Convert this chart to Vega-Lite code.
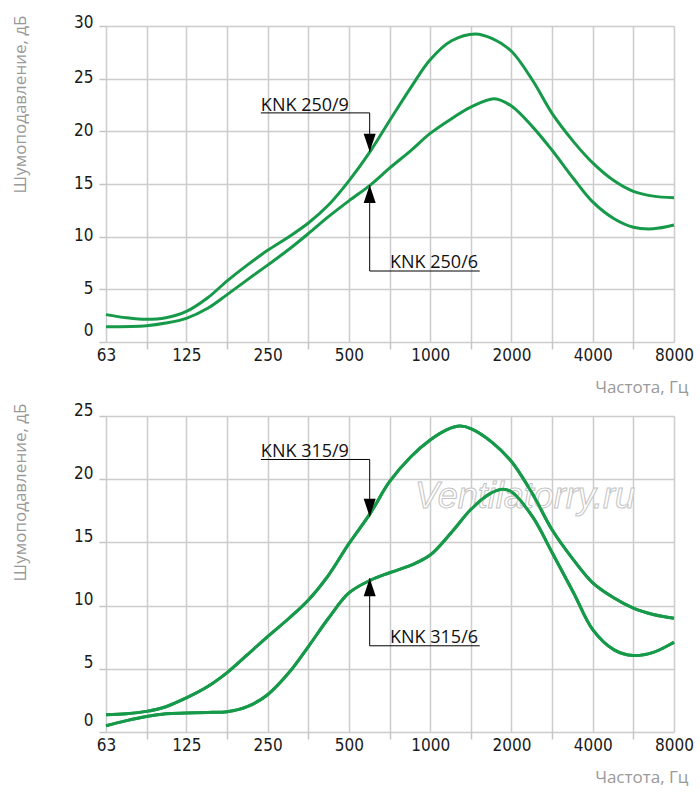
{
  "$schema": "https://vega.github.io/schema/vega-lite/v6.json",
  "padding": {"left": 10, "top": 13, "right": 5, "bottom": 5},
  "spacing": 6,
  "config": {
    "view": {"stroke": null},
    "axis": {
      "grid": true,
      "gridColor": "#cccccc",
      "gridWidth": 1.5,
      "domain": false,
      "tickColor": "#c4c4c4",
      "tickWidth": 1.5,
      "tickSize": 7,
      "labelFont": "Liberation Sans Narrow, DejaVu Sans Condensed, sans-serif",
      "labelFontSize": 17,
      "labelColor": "#1a1a1a",
      "labelFlush": false,
      "labelOverlap": false,
      "labelBound": false,
      "titleFont": "Open Sans",
      "titleFontSize": 17,
      "titleFontWeight": "normal",
      "titleColor": "#999999"
    },
    "line": {"color": "#17994a", "strokeWidth": 3, "interpolate": "catmull-rom"},
    "text": {"font": "Open Sans", "fontSize": 18, "align": "left", "baseline": "alphabetic"}
  },
  "datasets": {
    "top": [
      {"series": "KNK 250/9", "f": 63, "db": 2.6},
      {"series": "KNK 250/9", "f": 75, "db": 2.3},
      {"series": "KNK 250/9", "f": 89, "db": 2.15},
      {"series": "KNK 250/9", "f": 105, "db": 2.3},
      {"series": "KNK 250/9", "f": 125, "db": 2.9},
      {"series": "KNK 250/9", "f": 150, "db": 4.2},
      {"series": "KNK 250/9", "f": 177, "db": 5.8},
      {"series": "KNK 250/9", "f": 210, "db": 7.3},
      {"series": "KNK 250/9", "f": 250, "db": 8.7},
      {"series": "KNK 250/9", "f": 300, "db": 10.0},
      {"series": "KNK 250/9", "f": 354, "db": 11.3},
      {"series": "KNK 250/9", "f": 420, "db": 13.0},
      {"series": "KNK 250/9", "f": 500, "db": 15.3},
      {"series": "KNK 250/9", "f": 600, "db": 18.1},
      {"series": "KNK 250/9", "f": 707, "db": 21.0},
      {"series": "KNK 250/9", "f": 850, "db": 24.2},
      {"series": "KNK 250/9", "f": 1000, "db": 26.8},
      {"series": "KNK 250/9", "f": 1200, "db": 28.6},
      {"series": "KNK 250/9", "f": 1470, "db": 29.25},
      {"series": "KNK 250/9", "f": 1700, "db": 28.8},
      {"series": "KNK 250/9", "f": 2000, "db": 27.6},
      {"series": "KNK 250/9", "f": 2400, "db": 24.8},
      {"series": "KNK 250/9", "f": 2828, "db": 21.7},
      {"series": "KNK 250/9", "f": 3400, "db": 19.0},
      {"series": "KNK 250/9", "f": 4000, "db": 17.0},
      {"series": "KNK 250/9", "f": 4800, "db": 15.3},
      {"series": "KNK 250/9", "f": 5657, "db": 14.3},
      {"series": "KNK 250/9", "f": 6700, "db": 13.85},
      {"series": "KNK 250/9", "f": 8000, "db": 13.7},
      {"series": "KNK 250/6", "f": 63, "db": 1.45},
      {"series": "KNK 250/6", "f": 89, "db": 1.55},
      {"series": "KNK 250/6", "f": 105, "db": 1.8},
      {"series": "KNK 250/6", "f": 125, "db": 2.25},
      {"series": "KNK 250/6", "f": 150, "db": 3.2},
      {"series": "KNK 250/6", "f": 177, "db": 4.5},
      {"series": "KNK 250/6", "f": 210, "db": 5.9},
      {"series": "KNK 250/6", "f": 250, "db": 7.3},
      {"series": "KNK 250/6", "f": 300, "db": 8.8},
      {"series": "KNK 250/6", "f": 354, "db": 10.3},
      {"series": "KNK 250/6", "f": 420, "db": 11.9},
      {"series": "KNK 250/6", "f": 500, "db": 13.4},
      {"series": "KNK 250/6", "f": 600, "db": 14.9},
      {"series": "KNK 250/6", "f": 707, "db": 16.5},
      {"series": "KNK 250/6", "f": 850, "db": 18.2},
      {"series": "KNK 250/6", "f": 1000, "db": 19.8},
      {"series": "KNK 250/6", "f": 1200, "db": 21.2},
      {"series": "KNK 250/6", "f": 1414, "db": 22.3},
      {"series": "KNK 250/6", "f": 1730, "db": 23.1},
      {"series": "KNK 250/6", "f": 2000, "db": 22.4},
      {"series": "KNK 250/6", "f": 2400, "db": 20.4},
      {"series": "KNK 250/6", "f": 2828, "db": 18.2},
      {"series": "KNK 250/6", "f": 3400, "db": 15.5},
      {"series": "KNK 250/6", "f": 4000, "db": 13.3},
      {"series": "KNK 250/6", "f": 4800, "db": 11.7},
      {"series": "KNK 250/6", "f": 5657, "db": 10.9},
      {"series": "KNK 250/6", "f": 6700, "db": 10.75},
      {"series": "KNK 250/6", "f": 8000, "db": 11.1}
    ],
    "bottom": [
      {"series": "KNK 315/9", "f": 63, "db": 1.37},
      {"series": "KNK 315/9", "f": 75, "db": 1.45},
      {"series": "KNK 315/9", "f": 89, "db": 1.63},
      {"series": "KNK 315/9", "f": 105, "db": 2.0},
      {"series": "KNK 315/9", "f": 125, "db": 2.7},
      {"series": "KNK 315/9", "f": 150, "db": 3.6},
      {"series": "KNK 315/9", "f": 177, "db": 4.7},
      {"series": "KNK 315/9", "f": 210, "db": 6.1},
      {"series": "KNK 315/9", "f": 250, "db": 7.55},
      {"series": "KNK 315/9", "f": 300, "db": 9.0},
      {"series": "KNK 315/9", "f": 354, "db": 10.45},
      {"series": "KNK 315/9", "f": 420, "db": 12.4},
      {"series": "KNK 315/9", "f": 500, "db": 14.9},
      {"series": "KNK 315/9", "f": 600, "db": 17.3},
      {"series": "KNK 315/9", "f": 707, "db": 19.8},
      {"series": "KNK 315/9", "f": 850, "db": 21.8},
      {"series": "KNK 315/9", "f": 1000, "db": 23.1},
      {"series": "KNK 315/9", "f": 1150, "db": 23.9},
      {"series": "KNK 315/9", "f": 1290, "db": 24.2},
      {"series": "KNK 315/9", "f": 1414, "db": 24.0},
      {"series": "KNK 315/9", "f": 1700, "db": 22.9},
      {"series": "KNK 315/9", "f": 2000, "db": 21.4},
      {"series": "KNK 315/9", "f": 2400, "db": 18.8},
      {"series": "KNK 315/9", "f": 2828, "db": 16.0},
      {"series": "KNK 315/9", "f": 3400, "db": 13.6},
      {"series": "KNK 315/9", "f": 4000, "db": 11.8},
      {"series": "KNK 315/9", "f": 4800, "db": 10.6},
      {"series": "KNK 315/9", "f": 5657, "db": 9.8},
      {"series": "KNK 315/9", "f": 6700, "db": 9.3},
      {"series": "KNK 315/9", "f": 8000, "db": 9.0},
      {"series": "KNK 315/6", "f": 63, "db": 0.5},
      {"series": "KNK 315/6", "f": 75, "db": 0.9},
      {"series": "KNK 315/6", "f": 89, "db": 1.23},
      {"series": "KNK 315/6", "f": 105, "db": 1.45},
      {"series": "KNK 315/6", "f": 125, "db": 1.5},
      {"series": "KNK 315/6", "f": 150, "db": 1.55},
      {"series": "KNK 315/6", "f": 177, "db": 1.6},
      {"series": "KNK 315/6", "f": 210, "db": 2.0},
      {"series": "KNK 315/6", "f": 250, "db": 2.95},
      {"series": "KNK 315/6", "f": 300, "db": 4.7},
      {"series": "KNK 315/6", "f": 354, "db": 6.76},
      {"series": "KNK 315/6", "f": 420, "db": 9.0},
      {"series": "KNK 315/6", "f": 500, "db": 11.0},
      {"series": "KNK 315/6", "f": 600, "db": 12.0},
      {"series": "KNK 315/6", "f": 707, "db": 12.6},
      {"series": "KNK 315/6", "f": 850, "db": 13.2},
      {"series": "KNK 315/6", "f": 1000, "db": 14.0},
      {"series": "KNK 315/6", "f": 1200, "db": 15.8},
      {"series": "KNK 315/6", "f": 1414, "db": 17.6},
      {"series": "KNK 315/6", "f": 1650, "db": 18.8},
      {"series": "KNK 315/6", "f": 1850, "db": 19.2},
      {"series": "KNK 315/6", "f": 2000, "db": 19.0},
      {"series": "KNK 315/6", "f": 2400, "db": 17.0},
      {"series": "KNK 315/6", "f": 2828, "db": 14.2},
      {"series": "KNK 315/6", "f": 3400, "db": 11.0},
      {"series": "KNK 315/6", "f": 4000, "db": 8.1},
      {"series": "KNK 315/6", "f": 4800, "db": 6.5},
      {"series": "KNK 315/6", "f": 5657, "db": 6.05},
      {"series": "KNK 315/6", "f": 6700, "db": 6.3},
      {"series": "KNK 315/6", "f": 8000, "db": 7.1}
    ],
    "notesTop": [
      {"label": "KNK 250/9", "tx": 236, "ty": 21.94, "ux1": 236, "ux2": 597, "uy": 21.75, "ax": 597, "tip": 18.07, "dir": "down"},
      {"label": "KNK 250/6", "tx": 710, "ty": 7.03, "ux1": 597, "ux2": 1526, "uy": 6.74, "ax": 597, "tip": 14.9, "dir": "up"}
    ],
    "notesBottom": [
      {"label": "KNK 315/9", "tx": 236, "ty": 21.77, "ux1": 236, "ux2": 597, "uy": 21.56, "ax": 597, "tip": 17.03, "dir": "down"},
      {"label": "KNK 315/6", "tx": 710, "ty": 7.08, "ux1": 597, "ux2": 1526, "uy": 6.82, "ax": 597, "tip": 12.16, "dir": "up"}
    ],
    "mark": [
      {"site": "Ventilatorry.ru", "f": 2245, "db": 17.7}
    ]
  },
  "vconcat": [
    {
      "width": 568,
      "height": 316,
      "layer": [
        {
          "data": {"name": "top"},
          "mark": "line",
          "encoding": {
            "x": {
              "field": "f",
              "type": "quantitative",
              "scale": {"type": "log", "base": 2, "domain": [63, 8000], "nice": false},
              "axis": {
                "title": "Частота, Гц",
                "titleAlign": "right",
                "titleBaseline": "alphabetic",
                "titleX": 582,
                "titleY": 50,
                "values": [63, 89, 125, 177, 250, 354, 500, 707, 1000, 1414, 2000, 2828, 4000, 5657, 8000],
                "labelExpr": "indexof([63, 125, 250, 500, 1000, 2000, 4000, 8000], datum.value) >= 0 ? '' + datum.value : ''",
                "labelPadding": -2,
                "tickOpacity": {"condition": {"test": "indexof([63, 125, 250, 500, 1000, 2000, 4000, 8000], datum.value) >= 0", "value": 0}, "value": 1}
              }
            },
            "y": {
              "field": "db",
              "type": "quantitative",
              "scale": {"domain": [0, 30], "nice": false},
              "axis": {
                "title": "Шумоподавление, дБ",
                "titleAngle": -90,
                "titleAlign": "right",
                "titleBaseline": "alphabetic",
                "titleX": -81,
                "titleY": -11,
                "values": [0, 5, 10, 15, 20, 25, 30],
                "labelPadding": 6,
                "labelOffset": {"condition": [{"test": "datum.value == 0", "value": -12}, {"test": "datum.value == 30", "value": -4}], "value": -1}
              }
            },
            "detail": {"field": "series"}
          }
        },
        {
          "mark": {"type": "rule", "color": "#000000", "strokeWidth": 2},
          "encoding": {"x": {"datum": 29}, "x2": {"datum": 9010}, "y": {"datum": 0}}
        },
        {
          "mark": {"type": "rule", "color": "#000000", "strokeWidth": 2},
          "encoding": {"x": {"datum": 63}, "y": {"datum": -0.66}, "y2": {"datum": 31.2}}
        },
        {
          "mark": {"type": "rule", "color": "#000000", "strokeWidth": 2},
          "encoding": {"x": {"datum": 39.4}, "y": {"datum": 0}, "y2": {"datum": 31.2}}
        },
        {
          "data": {"name": "notesTop"},
          "mark": {"type": "rule", "color": "#000000", "strokeWidth": 1},
          "encoding": {"x": {"field": "ux1", "type": "quantitative"}, "x2": {"field": "ux2"}, "y": {"field": "uy", "type": "quantitative"}}
        },
        {
          "data": {"name": "notesTop"},
          "mark": {"type": "rule", "color": "#000000", "strokeWidth": 1},
          "encoding": {"x": {"field": "ax", "type": "quantitative"}, "y": {"field": "uy", "type": "quantitative"}, "y2": {"field": "tip"}}
        },
        {
          "data": {"name": "notesTop"},
          "mark": {"type": "point", "filled": true, "opacity": 1, "color": "#000000", "size": 324, "strokeWidth": 0},
          "encoding": {
            "x": {"field": "ax", "type": "quantitative"},
            "y": {"field": "tip", "type": "quantitative"},
            "shape": {"field": "dir", "type": "nominal", "scale": {"domain": ["down", "up"], "range": ["M-0.67,-2L0.67,-2L0,0Z", "M-0.67,2L0.67,2L0,0Z"]}, "legend": null}
          }
        },
        {
          "data": {"name": "notesTop"},
          "mark": {"type": "text", "color": "#111111"},
          "encoding": {"x": {"field": "tx", "type": "quantitative"}, "y": {"field": "ty", "type": "quantitative"}, "text": {"field": "label"}}
        }
      ]
    },
    {
      "width": 568,
      "height": 316,
      "layer": [
        {
          "data": {"name": "bottom"},
          "mark": "line",
          "encoding": {
            "x": {
              "field": "f",
              "type": "quantitative",
              "scale": {"type": "log", "base": 2, "domain": [63, 8000], "nice": false},
              "axis": {
                "title": "Частота, Гц",
                "titleAlign": "right",
                "titleBaseline": "alphabetic",
                "titleX": 582,
                "titleY": 50,
                "values": [63, 89, 125, 177, 250, 354, 500, 707, 1000, 1414, 2000, 2828, 4000, 5657, 8000],
                "labelExpr": "indexof([63, 125, 250, 500, 1000, 2000, 4000, 8000], datum.value) >= 0 ? '' + datum.value : ''",
                "labelPadding": -2,
                "tickOpacity": {"condition": {"test": "indexof([63, 125, 250, 500, 1000, 2000, 4000, 8000], datum.value) >= 0", "value": 0}, "value": 1}
              }
            },
            "y": {
              "field": "db",
              "type": "quantitative",
              "scale": {"domain": [0, 25], "nice": false},
              "axis": {
                "title": "Шумоподавление, дБ",
                "titleAngle": -90,
                "titleAlign": "right",
                "titleBaseline": "alphabetic",
                "titleX": -81,
                "titleY": -13,
                "values": [0, 5, 10, 15, 20, 25],
                "labelPadding": 6,
                "labelOffset": {"condition": [{"test": "datum.value == 0", "value": -12}], "value": -6}
              }
            },
            "detail": {"field": "series"}
          }
        },
        {
          "data": {"name": "mark"},
          "mark": {"type": "text", "font": "Liberation Sans", "fontSize": 36, "fontStyle": "italic", "align": "center", "baseline": "alphabetic", "color": "#ffffff", "fill": "#ffffff", "stroke": "#c4c4c4", "strokeWidth": 1},
          "encoding": {"x": {"field": "f", "type": "quantitative"}, "y": {"field": "db", "type": "quantitative"}, "text": {"field": "site"}}
        },
        {
          "data": {"name": "bottom"},
          "mark": "line",
          "encoding": {
            "x": {"field": "f", "type": "quantitative"},
            "y": {"field": "db", "type": "quantitative"},
            "detail": {"field": "series"}
          }
        },
        {
          "mark": {"type": "rule", "color": "#000000", "strokeWidth": 2},
          "encoding": {"x": {"datum": 29}, "x2": {"datum": 9010}, "y": {"datum": 0}}
        },
        {
          "mark": {"type": "rule", "color": "#000000", "strokeWidth": 2},
          "encoding": {"x": {"datum": 63}, "y": {"datum": -0.55}, "y2": {"datum": 26.03}}
        },
        {
          "mark": {"type": "rule", "color": "#000000", "strokeWidth": 2},
          "encoding": {"x": {"datum": 39.4}, "y": {"datum": 0}, "y2": {"datum": 26.03}}
        },
        {
          "data": {"name": "notesBottom"},
          "mark": {"type": "rule", "color": "#000000", "strokeWidth": 1},
          "encoding": {"x": {"field": "ux1", "type": "quantitative"}, "x2": {"field": "ux2"}, "y": {"field": "uy", "type": "quantitative"}}
        },
        {
          "data": {"name": "notesBottom"},
          "mark": {"type": "rule", "color": "#000000", "strokeWidth": 1},
          "encoding": {"x": {"field": "ax", "type": "quantitative"}, "y": {"field": "uy", "type": "quantitative"}, "y2": {"field": "tip"}}
        },
        {
          "data": {"name": "notesBottom"},
          "mark": {"type": "point", "filled": true, "opacity": 1, "color": "#000000", "size": 324, "strokeWidth": 0},
          "encoding": {
            "x": {"field": "ax", "type": "quantitative"},
            "y": {"field": "tip", "type": "quantitative"},
            "shape": {"field": "dir", "type": "nominal", "scale": {"domain": ["down", "up"], "range": ["M-0.67,-2L0.67,-2L0,0Z", "M-0.67,2L0.67,2L0,0Z"]}, "legend": null}
          }
        },
        {
          "data": {"name": "notesBottom"},
          "mark": {"type": "text", "color": "#111111"},
          "encoding": {"x": {"field": "tx", "type": "quantitative"}, "y": {"field": "ty", "type": "quantitative"}, "text": {"field": "label"}}
        }
      ]
    }
  ]
}
